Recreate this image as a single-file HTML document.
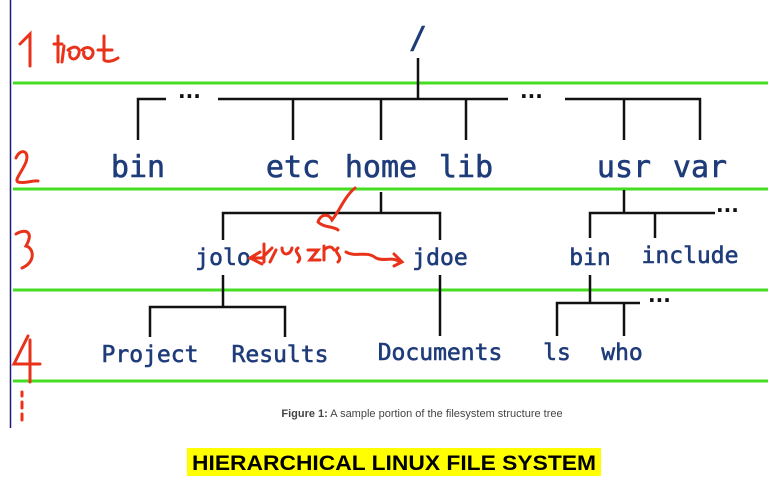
<!DOCTYPE html>
<html><head><meta charset="utf-8"><style>
html,body{margin:0;padding:0;background:#fff;width:783px;height:488px;overflow:hidden}
</style></head><body>
<svg width="783" height="488" viewBox="0 0 783 488" xmlns="http://www.w3.org/2000/svg">
<rect width="783" height="488" fill="#fff"/>
<line x1="10.5" y1="0" x2="10.5" y2="428" stroke="#1a1a7a" stroke-width="1.5"/>
<g stroke="#44dd22" stroke-width="3">
<line x1="13" y1="83" x2="768" y2="83"/>
<line x1="13" y1="189" x2="768" y2="189"/>
<line x1="13" y1="290" x2="768" y2="290"/>
<line x1="13" y1="381" x2="768" y2="381"/>
</g>
<g stroke="#111" stroke-width="2.5" fill="none">
<path d="M418 58V98M138 140V99H166M218 99H508M565 99H700V140M293 99V140M381 99V140M466 99V140M624 99V140"/>
<path d="M381 192V213M223 240V213H440V240M624 190V213M590 238V213H715M655 213V238"/>
<path d="M223 275V307M150 337V307H285V337M440 275V336M590 275V303M557 336V303H640M624 303V336"/>
</g>
<g fill="#111" font-family="DejaVu Sans,sans-serif" font-size="20" font-weight="bold">
<text x="178" y="103">···</text><text x="520" y="103">···</text>
<text x="716" y="217">···</text><text x="648" y="307">···</text>
</g>
<g fill="#1f3c7a" stroke="#1f3c7a" stroke-width="0.6" font-family="DejaVu Sans Mono,Liberation Mono,monospace" text-anchor="middle">
<text x="418" y="48" font-size="30">/</text>
<g font-size="30"><text x="138" y="177">bin</text><text x="293" y="177">etc</text><text x="381" y="177">home</text><text x="466" y="177">lib</text><text x="624" y="177">usr</text><text x="700" y="177">var</text></g>
<g font-size="23"><text x="223" y="265">jolo</text><text x="440" y="265">jdoe</text><text x="590" y="265">bin</text><text x="690" y="263">include</text>
<text x="150" y="362">Project</text><text x="280" y="362">Results</text><text x="440" y="360">Documents</text><text x="557" y="360">ls</text><text x="622" y="360">who</text></g>
</g>
<g stroke="#e8321a" stroke-width="3" fill="none" stroke-linecap="round">
<path d="M20 44L30 34V66"/>
<path d="M58 36V62M54 44H62M64 46L62 62M68 50C75 44 82 48 78 56C74 62 68 58 70 52M82 50C88 44 96 50 92 56C88 62 82 56 84 52M98 50H112M104 36V60C106 62 112 62 118 58"/>
<path d="M16 158C20 148 30 150 26 162C22 172 14 180 18 182C26 184 32 180 38 181"/>
<path d="M16 234C26 228 34 232 26 246C34 248 36 262 22 268"/>
<path d="M28 336L14 364H40M30 340V382"/>
<path d="M22 392V396M22 402V408M22 414V420"/>
<path d="M355 188C345 196 340 210 332 220C328 212 320 215 318 222C324 228 334 226 338 230"/>
<path d="M260 252L250 258L262 264M252 258H262M264 244V262M262 258L272 248M270 262L276 250"/>
<path d="M282 248C282 256 290 256 292 248M298 248C292 252 304 256 298 262M308 250H318L310 260H320M324 246V260M324 250C328 246 332 246 334 250M338 248C332 252 344 256 338 262"/>
<path d="M346 252C356 258 366 250 376 258C384 262 392 256 400 262M394 254L402 262L394 266"/>
</g>
<text x="422" y="417" text-anchor="middle" font-family="Liberation Sans,sans-serif" font-size="11" fill="#444"><tspan font-weight="bold">Figure 1:</tspan> A sample portion of the filesystem structure tree</text>
<rect x="187" y="448" width="414" height="28" fill="#ffff00"/>
<text x="394" y="470" text-anchor="middle" font-family="Liberation Sans,sans-serif" font-size="21" font-weight="bold" fill="#000" textLength="404" lengthAdjust="spacingAndGlyphs">HIERARCHICAL LINUX FILE SYSTEM</text>
</svg>
</body></html>
